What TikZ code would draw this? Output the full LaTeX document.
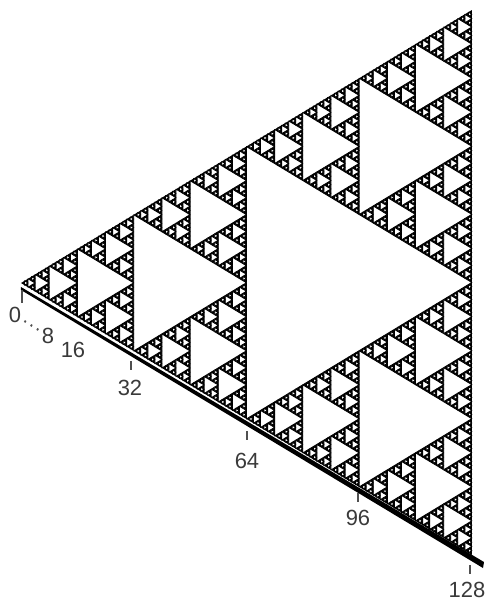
\documentclass[tikz,border=0pt]{standalone}
\usepackage{fontspec}
\setmainfont{Liberation Sans}
\usepackage{tikz}
\usetikzlibrary{calc,positioning}
\definecolor{axisGray}{HTML}{3A3A3A}
\definecolor{tickGray}{HTML}{505050}

\newcommand\sierpHoles[4]{%
  \ifnum#4>0\relax
    \begingroup
      \pgfmathsetmacro\hs{#3/2}%
      \pgfmathsetmacro\ha{#1+\hs}%
      \pgfmathsetmacro\hb{#2+\hs}%
      \pgfmathtruncatemacro\hd{#4-1}%
      \filldraw[fill=white,draw=black,line width=0.5pt,line join=round] (\ha,#2) -- (#1,\hb) -- (\ha,\hb) -- cycle;
      \edef\hnext{%
        \noexpand\sierpHoles{#1}{#2}{\hs}{\hd}%
        \noexpand\sierpHoles{\ha}{#2}{\hs}{\hd}%
        \noexpand\sierpHoles{#1}{\hb}{\hs}{\hd}}%
      \hnext
    \endgroup
  \fi}

\begin{document}
\begin{tikzpicture}[x=0.02cm,y=-0.02cm,
  tickLine/.style={tickGray,line width=0.6pt},
  tickLabel/.style={text=axisGray,font=\fontsize{12.5}{14}\selectfont,inner sep=0pt}]
  \useasboundingbox (0,0) rectangle (485,600);
  \begin{scope}[shift={(21,283)},x={(0.070469cm,-0.0425cm)},y={(0.070469cm,0.042656cm)}]
    \fill[black] (0,0) -- (128,0) -- (0,128) -- cycle;
    \sierpHoles{0}{0}{128}{7}
  \end{scope}
  \fill[black] (21,287) -- (484,562) -- (483,568) -- (21,290) -- cycle;
  \draw[tickLine] (22,290) -- (22,303);
  \foreach \v/\tx/\ty in {32/131/361,64/247/431,96/358/493,128/470/565}
    \draw[tickLine] (\tx,\ty) -- ++(0,9);
  \node[tickLabel] (l0) at (15,315) {0};
  \node[tickLabel] (l8) at (48,336) {8};
  \node[tickLabel] (l16) at (73,350) {16};
  \node[tickLabel] (l32) at (130,388) {32};
  \node[tickLabel] (l64) at (247,461) {64};
  \node[tickLabel] (l96) at (358,518) {96};
  \node[tickLabel] (l128) at (467,590) {128};
  \draw[tickGray,line width=1.2pt,dash pattern=on 1pt off 3.2pt,shorten <=2pt,shorten >=2pt] (l0) -- (l8);
\end{tikzpicture}
\end{document}
